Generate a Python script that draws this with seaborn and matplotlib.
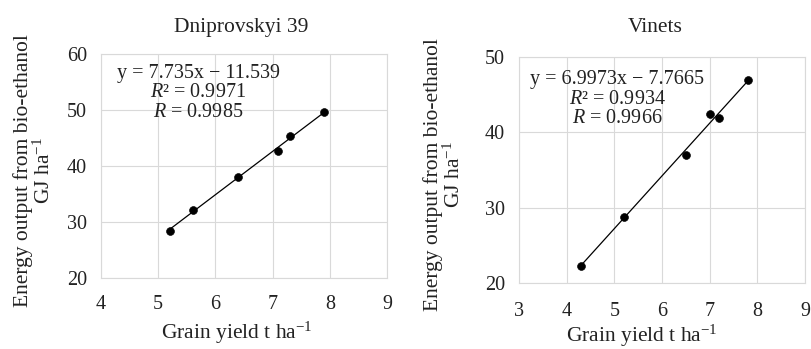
import numpy as np
import pandas as pd
import matplotlib
matplotlib.use("Agg")
import matplotlib.pyplot as plt
import seaborn as sns

# Data
titles = ["Dniprovskyi 39", "Vinets"]
x_dni = [5.2, 5.6, 6.4, 7.1, 7.3, 7.9]
y_dni = [28.4, 32.2, 38.0, 42.7, 45.4, 49.6]
x_vin = [4.3, 5.2, 6.5, 7.0, 7.2, 7.8]
y_vin = [22.3, 28.8, 37.0, 42.5, 41.9, 47.0]
fit_dni = (7.735, -11.539)
fit_vin = (6.9973, -7.7665)
eq_dni = "y = 7.735x − 11.539\n$R$² = 0.9971\n$R$ = 0.9985"
eq_vin = "y = 6.9973x − 7.7665\n$R$² = 0.9934\n$R$ = 0.9966"
xticks_dni = [4, 5, 6, 7, 8, 9]
yticks_dni = [20, 30, 40, 50, 60]
xticks_vin = [3, 4, 5, 6, 7, 8, 9]
yticks_vin = [20, 30, 40, 50]

sns.set_theme(style="whitegrid")
plt.rcParams['font.family'] = ['Liberation Serif', 'DejaVu Serif']
plt.rcParams['mathtext.fontset'] = 'custom'
plt.rcParams['mathtext.it'] = 'Liberation Serif:italic'
plt.rcParams['mathtext.rm'] = 'Liberation Serif'

fig = plt.figure(figsize=(8.11, 3.49), dpi=100)
ax1 = fig.add_axes([101/811, 1-278/349, 286/811, 224/349])
ax2 = fig.add_axes([519/811, 1-283/349, 286/811, 226/349])

configs = [
    dict(ax=ax1, xs=x_dni, ys=y_dni, fit=fit_dni, eq=eq_dni, xl=(4, 9), yl=(20, 60),
         xt=xticks_dni, yt=yticks_dni, eqpos=(0.34, 0.826), title=titles[0],
         tpos=(0.49, 1.12), ylab=(-0.235, 0.478), xlab=(0.476, -0.245), xpad=12),
    dict(ax=ax2, xs=x_vin, ys=y_vin, fit=fit_vin, eq=eq_vin, xl=(3, 9), yl=(20, 50),
         xt=xticks_vin, yt=yticks_vin, eqpos=(0.344, 0.814), title=titles[1],
         tpos=(0.476, 1.13), ylab=(-0.262, 0.482), xlab=(0.43, -0.232), xpad=14),
]
tc = "#222222"
for c in configs:
    ax = c["ax"]
    df = pd.DataFrame({"x": c["xs"], "y": c["ys"]})
    xx = np.array([min(c["xs"]), max(c["xs"])])
    fdf = pd.DataFrame({"x": xx, "y": c["fit"][0]*xx + c["fit"][1]})
    sns.lineplot(data=fdf, x="x", y="y", ax=ax, color="black", linewidth=0.9)
    sns.scatterplot(data=df, x="x", y="y", ax=ax, color="black", s=32, edgecolor="black", zorder=3)
    ax.set_xlim(*c["xl"]); ax.set_ylim(*c["yl"])
    ax.set_xticks(c["xt"]); ax.set_yticks(c["yt"])
    ax.grid(True, color="#d9d9d9", linewidth=0.8)
    for s in ax.spines.values():
        s.set_color("#d9d9d9"); s.set_linewidth(0.8)
    ax.tick_params(axis="both", labelsize=14.5, colors=tc, length=0)
    ax.tick_params(axis="x", pad=c["xpad"])
    ax.tick_params(axis="y", pad=10)
    ax.set_xlabel("Grain yield t ha$^{-1}$", fontsize=15.5, color=tc, va="center")
    ax.xaxis.set_label_coords(*c["xlab"])
    ax.set_ylabel("Energy output from bio-ethanol\nGJ ha$^{-1}$", fontsize=15.5, color=tc,
                  va="center", linespacing=1.0)
    ax.yaxis.set_label_coords(*c["ylab"])
    ax.text(c["tpos"][0], c["tpos"][1], c["title"], transform=ax.transAxes,
            ha="center", va="center", fontsize=15.5, color=tc)
    ax.text(c["eqpos"][0], c["eqpos"][1], c["eq"], transform=ax.transAxes,
            ha="center", va="center", fontsize=14.5, color=tc, linespacing=1.05)

fig.savefig("out.png", dpi=100)
